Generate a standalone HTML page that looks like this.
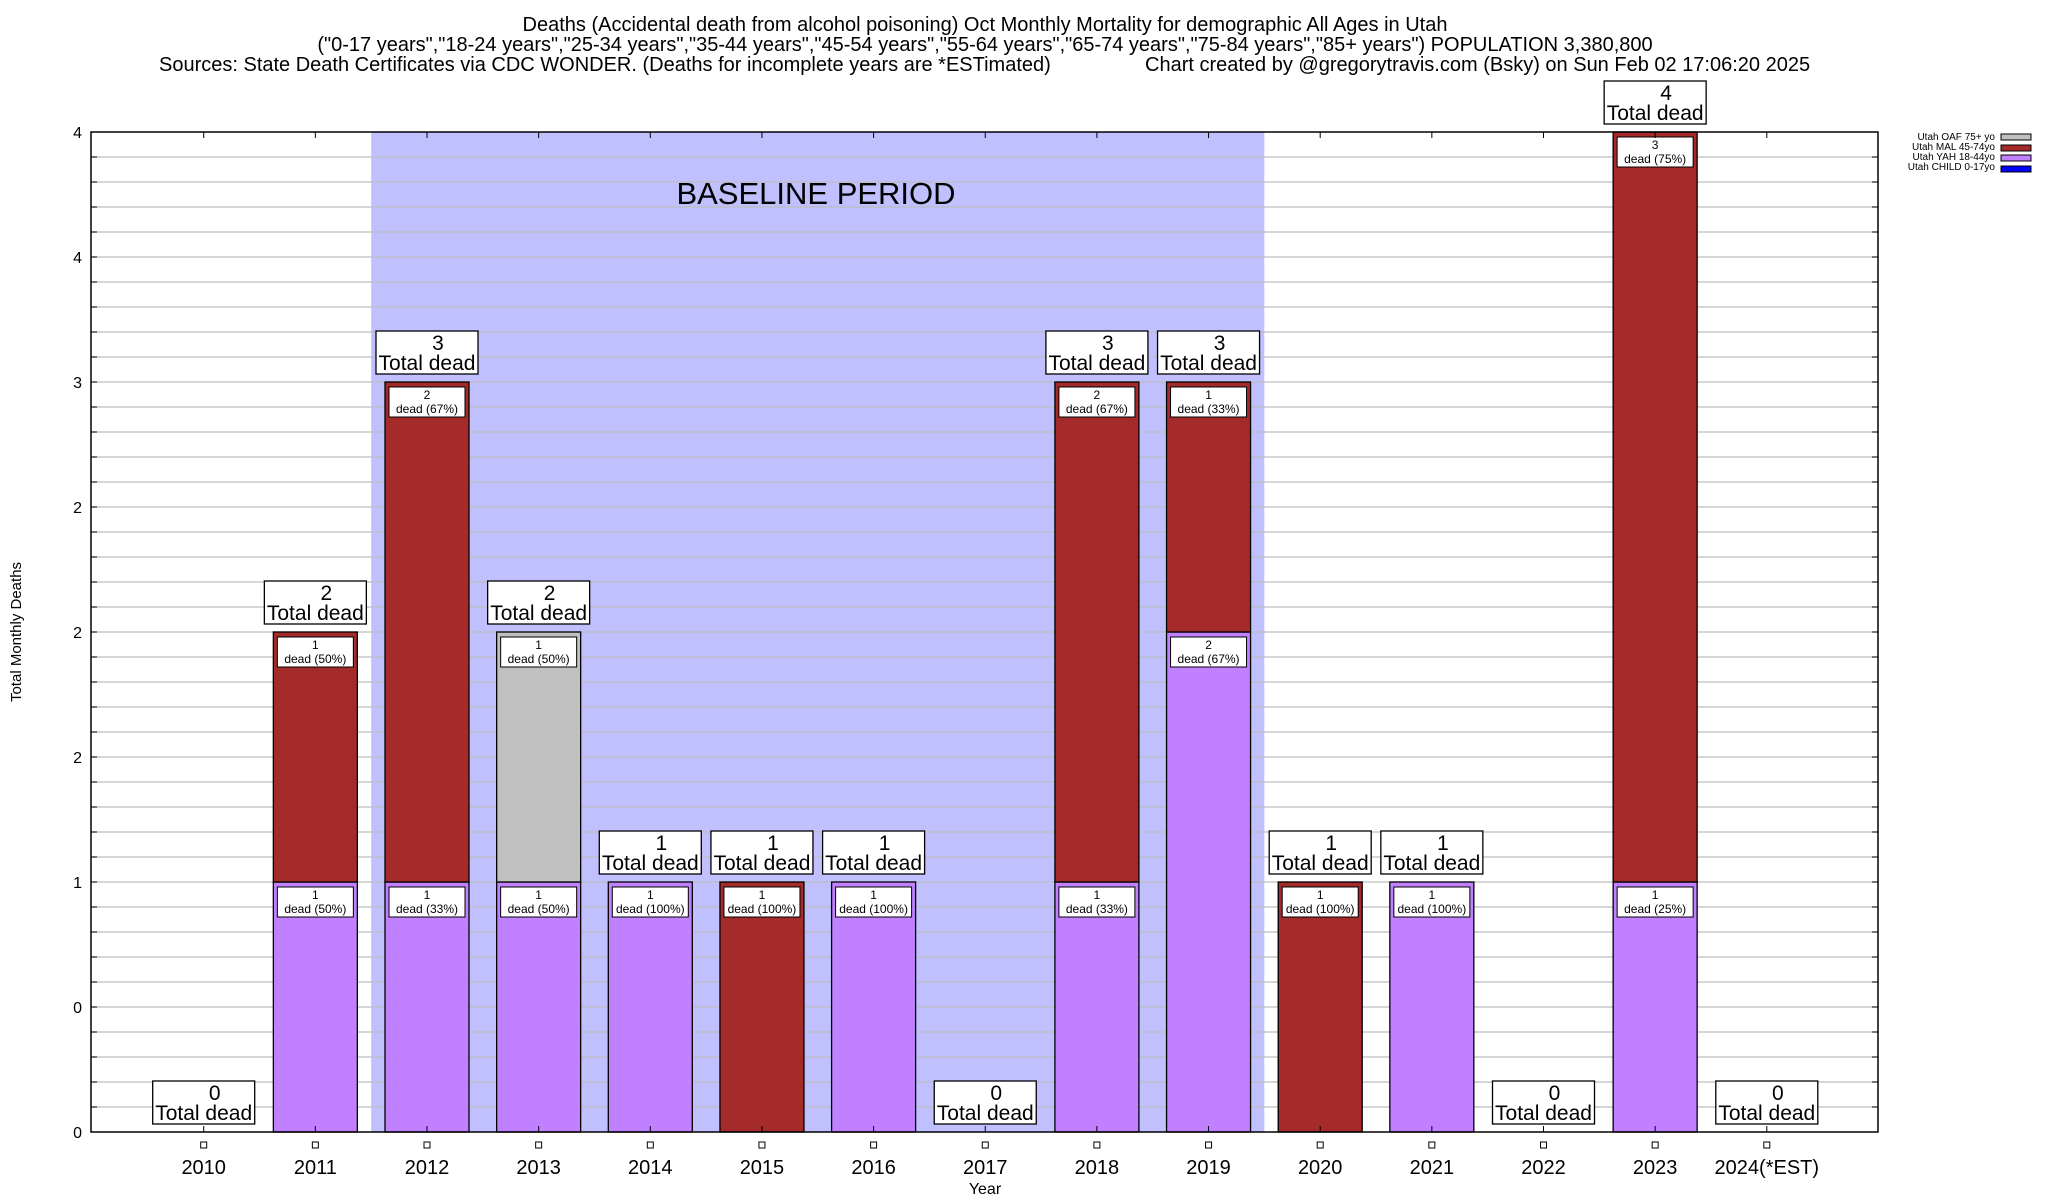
<!DOCTYPE html>
<html><head><meta charset="utf-8"><style>
body{margin:0;background:#fff}
svg{display:block;font-family:"Liberation Sans",sans-serif}
</style></head><body>
<svg id="chart" width="2048" height="1200" viewBox="0 0 2048 1200" xmlns="http://www.w3.org/2000/svg">
<rect width="2048" height="1200" fill="#fff"/>
<text x="985" y="31" font-size="20" text-anchor="middle">Deaths (Accidental death from alcohol poisoning) Oct Monthly Mortality for demographic All Ages in Utah</text>
<text x="985" y="51" font-size="20" text-anchor="middle">("0-17 years","18-24 years","25-34 years","35-44 years","45-54 years","55-64 years","65-74 years","75-84 years","85+ years") POPULATION 3,380,800</text>
<text x="159" y="71" font-size="20">Sources: State Death Certificates via CDC WONDER. (Deaths for incomplete years are *ESTimated)</text>
<text x="1145" y="71" font-size="20">Chart created by @gregorytravis.com (Bsky) on Sun Feb 02 17:06:20 2025</text>
<g id="plot"></g>
<text transform="translate(21,632) rotate(-90)" font-size="15" text-anchor="middle">Total Monthly Deaths</text>
<text x="985" y="1194" font-size="16" text-anchor="middle">Year</text>
<g font-size="10" text-anchor="end">
<text x="1995" y="140">Utah OAF 75+ yo</text>
<rect x="2001" y="134" width="30" height="6" fill="#c0c0c0" stroke="#000"/>
<text x="1995" y="150">Utah MAL 45-74yo</text>
<rect x="2001" y="145" width="30" height="6" fill="#a52a2a" stroke="#000"/>
<text x="1995" y="160">Utah YAH 18-44yo</text>
<rect x="2001" y="155" width="30" height="6" fill="#c080ff" stroke="#000"/>
<text x="1995" y="170">Utah CHILD 0-17yo</text>
<rect x="2001" y="166" width="30" height="6" fill="#0000ff" stroke="#000"/>
</g>
</svg>
<script>
const years=["2010","2011","2012","2013","2014","2015","2016","2017","2018","2019","2020","2021","2022","2023","2024(*EST)"];
const yah=[0,1,1,1,1,0,1,0,1,2,0,1,0,1,0];
const mal=[0,1,2,0,0,1,0,0,2,1,1,0,0,3,0];
const oaf=[0,0,0,1,0,0,0,0,0,0,0,0,0,0,0];
const yTickVals=[0,0.5,1,1.5,2,2.5,3,3.5,4];
const yTickLabels=["0","0","1","2","2","2","3","4","4"];
const baselineStart=2, baselineEnd=9;
const NS="http://www.w3.org/2000/svg";
const L=91,R=1878,T=132,B=1132;
const xs=i=>203.7+i*111.65;
const ys=v=>B-v*250;
const bw=84;
const g=document.getElementById('plot');
function mk(t,a,p){const e=document.createElementNS(NS,t);for(const k in a)e.setAttribute(k,a[k]);(p||g).appendChild(e);return e;}
const bl=mk('rect',{x:xs(baselineStart)-55.8,y:T,width:xs(baselineEnd)-xs(baselineStart)+111.6,height:B-T,fill:'#c0c0ff'});


for(let k=1;k<40;k++){const v=k/10;const y=ys(v);
 const gl=mk('line',{x1:L,x2:R,y1:y,y2:y,stroke:'#bdbdbd','stroke-width':1.3});
 
 
 mk('line',{x1:L,x2:L+6,y1:y,y2:y,stroke:'#000'});mk('line',{x1:R-6,x2:R,y1:y,y2:y,stroke:'#000'});}
const bt=mk('text',{x:816,y:204,'font-size':31,'text-anchor':'middle'});bt.textContent='BASELINE PERIOD';


yTickVals.forEach((v,i)=>{const t=mk('text',{x:82,y:ys(v)+6,'font-size':16,'text-anchor':'end'});t.textContent=yTickLabels[i];
 
 });
function pct(n,tot){return Math.round(n/tot*100);}
years.forEach((yr,i)=>{
 const cx=xs(i);const tot=yah[i]+mal[i]+oaf[i];
 let base=0;
 [[yah[i],'#c080ff','yah'],[mal[i],'#a52a2a','mal'],[oaf[i],'#c0c0c0','oaf']].forEach(([v,c,n])=>{
  if(v<=0)return;
  const r=mk('rect',{x:cx-bw/2,y:ys(base+v),width:bw,height:ys(base)-ys(base+v),fill:c,stroke:'#000','stroke-width':1.3});
  
  
  const top=ys(base+v);
  const lb=mk('rect',{x:cx-38,y:top+5,width:76,height:30,fill:'#fff',stroke:'#000','stroke-width':1});
  
  
  const t1=mk('text',{x:cx,y:top+17,'font-size':12,'text-anchor':'middle'});t1.textContent=v;
  const t2=mk('text',{x:cx,y:top+31,'font-size':12,'text-anchor':'middle'});t2.textContent='dead ('+pct(v,tot)+'%)';
  base+=v;});
 const by=ys(tot)-8;
 const tb=mk('rect',{x:cx-51,y:by-43,width:102,height:43,fill:'#fff',stroke:'#000','stroke-width':1.3});
 
 
 const a=mk('text',{x:cx+11,y:by-24,'font-size':21,'text-anchor':'middle'});a.textContent=tot;
 const b=mk('text',{x:cx,y:by-4,'font-size':21,'text-anchor':'middle'});b.textContent='Total dead';
 mk('line',{x1:cx,x2:cx,y1:T,y2:T+6,stroke:'#000'});
 mk('line',{x1:cx,x2:cx,y1:B,y2:B-6,stroke:'#000'});
 mk('rect',{x:cx-3,y:1142,width:6,height:6,fill:'#fff',stroke:'#000'});
 const xl=mk('text',{x:cx,y:1174,'font-size':20,'text-anchor':'middle'});xl.textContent=yr;
 
 
});
const fr=mk('rect',{x:L,y:T,width:R-L,height:B-T,fill:'none',stroke:'#000','stroke-width':1.5});


</script>
</body></html>
